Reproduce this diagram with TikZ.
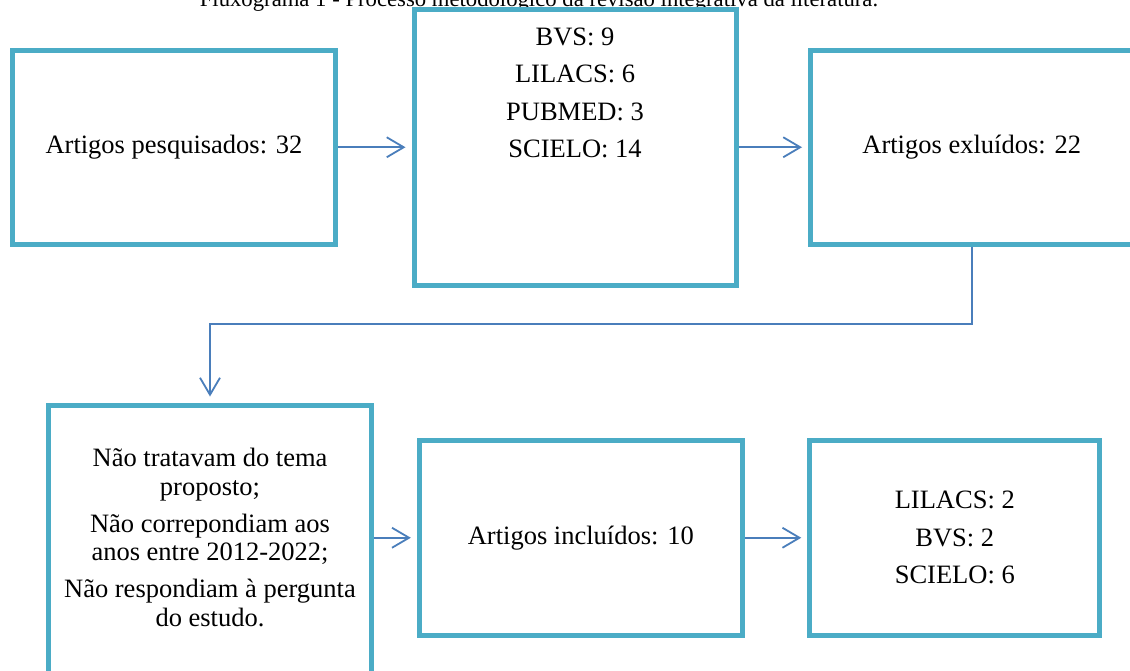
\documentclass[tikz,border=0pt]{standalone}
\usepackage{fontspec}
\setmainfont{Liberation Serif}
\usetikzlibrary{arrows.meta}
\definecolor{boxc}{RGB}{75,172,198}
\definecolor{arrc}{RGB}{74,126,187}
\begin{document}
\begin{tikzpicture}[x=1pt,y=-1pt,
  flowbox/.style={draw=boxc,line width=5pt,fill=white,inner sep=0pt,align=center,font=\fontsize{26.5}{37.5}\selectfont},
  txt/.style={inner sep=0pt,align=center,font=\fontsize{26.5}{37.5}\selectfont},
  conn/.style={draw=arrc,line width=1.8pt,shorten >=6pt,-{Straight Barb[length=17pt,width=20pt,line width=1.8pt]}}
  ]
\useasboundingbox (0,0) rectangle (1130,670);
\clip (0,0) rectangle (1130,670);
\fill[white] (0,0) rectangle (1130,670);
\node[anchor=base,inner sep=0pt,font=\fontsize{22.7}{27}\selectfont] (title) at (539,6) {Fluxograma 1 - Processo metodológico da revisão integrativa da literatura.};
\node[flowbox,minimum width=323pt,minimum height=193.5pt] (pesq) at (174,147.25) {Artigos pesquisados: 32};
\node[flowbox,minimum width=322pt,minimum height=275.5pt] (bases) at (575,147.25) {};
\node[txt,anchor=north] (basesTxt) at (575,27.5) {BVS: 9\\LILACS: 6\\PUBMED: 3\\SCIELO: 14};
\node[flowbox,minimum width=322.4pt,minimum height=193.5pt] (excl) at (971.7,147.25) {Artigos exluídos: 22};
\node[flowbox,minimum width=323pt,minimum height=271pt] (motivos) at (210,540.5) {};
\node[txt,anchor=north,font=\fontsize{26.5}{28.5}\selectfont] (motivosTxt) at (210,448) {Não tratavam do tema\\proposto;\\[8.5pt]Não correpondiam aos\\anos entre 2012-2022;\\[8.5pt]Não respondiam à pergunta\\do estudo.};
\node[flowbox,minimum width=323pt,minimum height=194.5pt] (incl) at (580.8,537.75) {Artigos incluídos: 10};
\node[flowbox,minimum width=290pt,minimum height=194.5pt] (final) at (954.75,537.75) {LILACS: 2\\BVS: 2\\SCIELO: 6};
\coordinate (bend) at (0,324.3);
\draw[conn] (pesq.east) -- (bases.west |- pesq.east);
\draw[conn] (bases.east |- excl.west) -- (excl.west);
\draw[conn] (excl.south) -- (excl.south |- bend) -| (motivos.north);
\draw[conn] (motivos.east |- incl.west) -- (incl.west);
\draw[conn] (incl.east) -- (final.west);
\end{tikzpicture}
\end{document}
